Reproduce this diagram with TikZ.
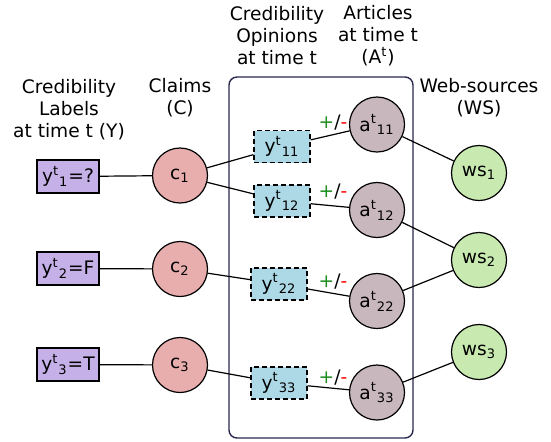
\documentclass[tikz,border=0pt]{standalone}
\usepackage{fontspec}
\setmainfont{DejaVu Sans}
\definecolor{labelfill}{RGB}{198,176,232}
\definecolor{claimfill}{RGB}{232,174,174}
\definecolor{opinionfill}{RGB}{173,216,230}
\definecolor{articlefill}{RGB}{201,183,190}
\definecolor{sourcefill}{RGB}{200,234,176}
\definecolor{framecol}{RGB}{40,40,80}
\definecolor{plusgreen}{RGB}{30,140,30}
\newcommand{\stance}{\textcolor{plusgreen}{+}/\textcolor{red}{-}}

\begin{document}
\begin{tikzpicture}[x=0.5pt,y=-0.5pt
                   ,font=\fontsize{9.3}{11}\selectfont
                   ,line width=0.6pt
                   ,credlabel/.style={draw,fill=labelfill,minimum width=31pt,minimum height=16.5pt,inner sep=1pt}
                   ,claim/.style={draw,circle,fill=claimfill,minimum size=27.5pt,inner sep=0pt}
                   ,opinion/.style={draw,dash pattern=on 2.5pt off 1.5pt,fill=opinionfill,minimum width=28pt,minimum height=16pt,inner sep=1pt}
                   ,article/.style={draw,circle,fill=articlefill,minimum size=27.5pt,inner sep=0pt}
                   ,websource/.style={draw,circle,fill=sourcefill,minimum size=27.5pt,inner sep=0pt}
                   ,heading/.style={align=center}]
\useasboundingbox (0,0) rectangle (551,441);

% headings
\node[heading] (hlab) at (69,110) {Credibility\\Labels\\at time t (Y)};
\node[heading] (hclm) at (180,98) {Claims\\(C)};
\node[heading] (hopn) at (277,36) {Credibility\\Opinions\\at time t};
\node[heading] (hart) at (378,36) {Articles\\at time t\\(A\textsuperscript{t})};
\node[heading] (hws) at (479,98) {Web-sources\\(WS)};

% frame round the opinions and articles
\draw[framecol,line width=0.7pt,rounded corners=4pt] (229,77) rectangle (413,438);

% labels and claims
\node[credlabel] (y1) at (68,176.5) {y\textsuperscript{t}\textsubscript{1}=?};
\node[credlabel] (y2) at (68,268.5) {y\textsuperscript{t}\textsubscript{2}=F};
\node[credlabel] (y3) at (68,364.5) {y\textsuperscript{t}\textsubscript{3}=T};
\node[claim] (c1) at (180,175.5) {c\textsubscript{1}};
\node[claim] (c2) at (180,269) {c\textsubscript{2}};
\node[claim] (c3) at (180,365) {c\textsubscript{3}};

% opinions and articles
\node[opinion] (y11) at (282,146.5) {y\textsuperscript{t}\textsubscript{11}};
\node[opinion] (y12) at (282,201) {y\textsuperscript{t}\textsubscript{12}};
\node[opinion] (y22) at (279,284) {y\textsuperscript{t}\textsubscript{22}};
\node[opinion] (y33) at (279,383) {y\textsuperscript{t}\textsubscript{33}};
\node[article] (a11) at (377,124.5) {a\textsuperscript{t}\textsubscript{11}};
\node[article] (a12) at (377,210) {a\textsuperscript{t}\textsubscript{12}};
\node[article] (a22) at (377,301) {a\textsuperscript{t}\textsubscript{22}};
\node[article] (a33) at (377,392.5) {a\textsuperscript{t}\textsubscript{33}};

% web-sources
\node[websource] (ws1) at (479,173) {ws\textsubscript{1}};
\node[websource] (ws2) at (479,260) {ws\textsubscript{2}};
\node[websource] (ws3) at (479,352) {ws\textsubscript{3}};

% stances
\node (s11) at (333,123) {\stance};
\node (s12) at (333,192) {\stance};
\node (s22) at (333,282) {\stance};
\node (s33) at (333,378) {\stance};

\path
  (y1) edge (c1)
  (y2) edge (c2)
  (y3) edge (c3)
  (c1) edge (y11)
  (c1) edge (y12)
  (c2) edge (y22)
  (c3) edge (y33)
  (y11) edge (a11)
  (y12) edge (a12)
  (y22) edge (a22)
  (y33) edge (a33)
  (a11) edge (ws1)
  (a12) edge (ws2)
  (a22) edge (ws2)
  (a33) edge (ws3)
  ;
\end{tikzpicture}
\end{document}
